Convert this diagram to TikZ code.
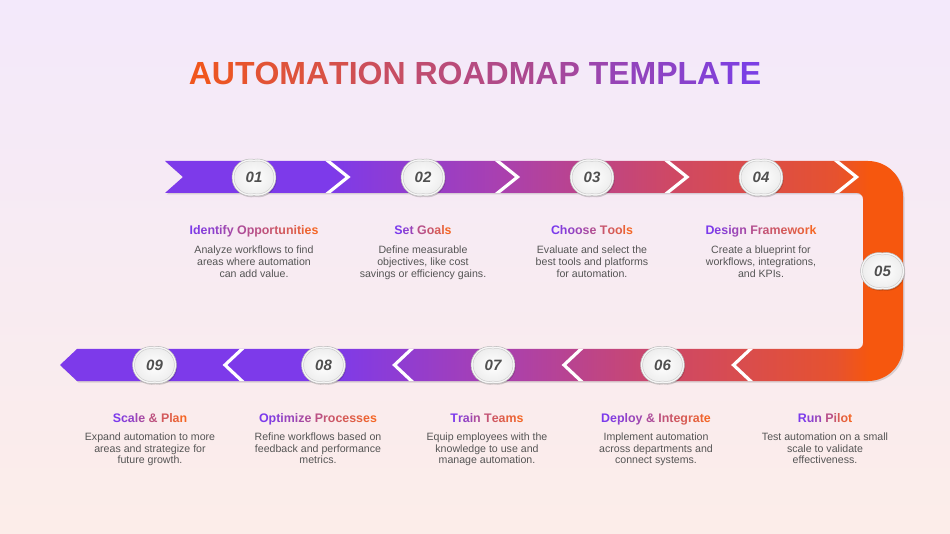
\documentclass[tikz,border=0pt]{standalone}
\usepackage{fontspec}
\setmainfont{Liberation Sans}
\definecolor{bgtop}{RGB}{243,233,251}
\definecolor{bgbot}{RGB}{252,237,233}
\definecolor{bpur}{RGB}{125,58,234}
\definecolor{bmag}{RGB}{169,64,176}
\definecolor{bred}{RGB}{206,72,102}
\definecolor{bora}{RGB}{230,82,47}
\definecolor{borb}{RGB}{246,87,14}
\definecolor{hpur}{RGB}{123,58,236}
\definecolor{hora}{RGB}{244,102,38}
\definecolor{tora}{RGB}{240,86,29}
\definecolor{tpur}{RGB}{123,63,228}
\definecolor{bodytext}{RGB}{85,85,85}
\definecolor{numtext}{RGB}{80,80,80}
\pgfdeclarehorizontalshading{bandshade}{100bp}{color(0bp)=(bpur); color(41bp)=(bpur); color(51bp)=(bmag); color(61bp)=(bred); color(71bp)=(bora); color(73bp)=(borb); color(100bp)=(borb)}
\ExplSyntaxOn
\int_new:N \l_gt_n_int
\int_new:N \l_gt_i_int
\tl_new:N \l_gt_tl
\cs_new:Npn \gt_space: { \c_space_tl }
\cs_new:Npn \gt_color:nn #1#2 { { \color{#1} #2 } }
\NewDocumentCommand \gradtext { m m m }
  {
    \tl_set:Nn \l_gt_tl {#3}
    \tl_replace_all:Nnn \l_gt_tl { ~ } { \gt_space: }
    \int_set:Nn \l_gt_n_int { \tl_count:N \l_gt_tl }
    \int_zero:N \l_gt_i_int
    \tl_map_inline:Nn \l_gt_tl
      {
        \int_incr:N \l_gt_i_int
        \tl_if_eq:nnTF {##1} { \gt_space: }
          { \c_space_tl }
          {
            \exp_args:Nx \gt_color:nn
              { #2 ! \int_eval:n { 100 * ( \l_gt_i_int - 1 ) / \int_max:nn {1} { \l_gt_n_int - 1 } } ! #1 }
              {##1}
          }
      }
  }
\ExplSyntaxOff
\def\bandpath{(165,161) -- (868,161) .. controls (887.3,161) and (903,176.7) .. (903,196) -- (903,346) .. controls (903,365.3) and (887.3,381) .. (868,381) -- (77,381) -- (60,365) -- (77,349) -- (857,349) .. controls (860.3,349) and (863,346.3) .. (863,343) -- (863,199) .. controls (863,195.7) and (860.3,193) .. (857,193) -- (165,193) -- (183,177) -- cycle}
\newcommand\badgeshape[2]{%
  \fill[black,opacity=.16] (#1+0.8,#2+1.3-18.17) arc[start angle=-100.9,end angle=100.9,radius=18.5] arc[start angle=79.1,end angle=280.9,radius=18.5] -- cycle;
  \filldraw[fill=white!94!gray,draw=gray!55,line width=.5pt] (#1,#2-18.17) arc[start angle=-100.9,end angle=100.9,radius=18.5] arc[start angle=79.1,end angle=280.9,radius=18.5] -- cycle;
  \shade[inner color=white,outer color=gray!14,draw=gray!40,line width=.5pt] (#1,#2-16.12) arc[start angle=-102.25,end angle=102.25,radius=16.5] arc[start angle=77.75,end angle=282.25,radius=16.5] -- cycle;
}
\begin{document}
\begin{tikzpicture}[x=1pt,y=-1pt,
  heading/.style={font=\fontsize{12.4}{14}\selectfont\bfseries,anchor=base,inner sep=0pt},
  bodytxt/.style={font=\fontsize{10.6}{11.65}\selectfont,text=bodytext,align=center,anchor=north,inner sep=0pt},
  num/.style={font=\fontsize{15}{15}\selectfont\bfseries\itshape,text=numtext,inner sep=0pt},
  sepline/.style={draw=white,line width=3.2pt,line join=miter}]
\useasboundingbox (0,0) rectangle (950,534);
\shade[top color=bgtop,bottom color=bgbot] (0,0) rectangle (950,534);
% title
\node[font=\fontsize{32}{34}\selectfont\bfseries,anchor=base,inner sep=0pt] (title) at (475,85) {\gradtext{tora}{tpur}{AUTOMATION ROADMAP TEMPLATE}};
% band
\fill[black,opacity=.13,shift={(1.5,1.5)}] \bandpath;
\path[shading=bandshade] \bandpath;
\begin{scope}
\clip \bandpath;
\foreach \sx in {328,497.5,667,836.5}
  \draw[sepline] (\sx-3.75,158) -- (\sx+20,177) -- (\sx-3.75,196);
\foreach \sx in {242,411.5,581,750.5}
  \draw[sepline] (\sx+3.2,346) -- (\sx-17,365) -- (\sx+3.2,384);
\end{scope}
% badges
\badgeshape{254}{177.5}\node[num] (n01) at (254,177.5) {01};
\badgeshape{423}{177.5}\node[num] (n02) at (423,177.5) {02};
\badgeshape{592}{177.5}\node[num] (n03) at (592,177.5) {03};
\badgeshape{761}{177.5}\node[num] (n04) at (761,177.5) {04};
\badgeshape{882.5}{271}\node[num] (n05) at (882.5,271) {05};
\badgeshape{662.5}{365}\node[num] (n06) at (662.5,365) {06};
\badgeshape{493}{365}\node[num] (n07) at (493,365) {07};
\badgeshape{323.5}{365}\node[num] (n08) at (323.5,365) {08};
\badgeshape{154.5}{365}\node[num] (n09) at (154.5,365) {09};
% top texts
\node[heading] (h1) at (254,235) {\gradtext{hpur}{hora}{Identify Opportunities}};
\node[bodytxt] (t1) at (254,246) {Analyze workflows to find\\areas where automation\\can add value.};
\node[heading] (h2) at (423,235) {\gradtext{hpur}{hora}{Set Goals}};
\node[bodytxt] (t2) at (423,246) {Define measurable\\objectives, like cost\\savings or efficiency gains.};
\node[heading] (h3) at (592,235) {\gradtext{hpur}{hora}{Choose Tools}};
\node[bodytxt] (t3) at (592,246) {Evaluate and select the\\best tools and platforms\\for automation.};
\node[heading] (h4) at (761,235) {\gradtext{hpur}{hora}{Design Framework}};
\node[bodytxt] (t4) at (761,246) {Create a blueprint for\\workflows, integrations,\\and KPIs.};
% bottom texts
\node[heading] (h5) at (825,422.5) {\gradtext{hpur}{hora}{Run Pilot}};
\node[bodytxt] (t5) at (825,432.5) {Test automation on a small\\scale to validate\\effectiveness.};
\node[heading] (h6) at (656,422.5) {\gradtext{hpur}{hora}{Deploy \& Integrate}};
\node[bodytxt] (t6) at (656,432.5) {Implement automation\\across departments and\\connect systems.};
\node[heading] (h7) at (487,422.5) {\gradtext{hpur}{hora}{Train Teams}};
\node[bodytxt] (t7) at (487,432.5) {Equip employees with the\\knowledge to use and\\manage automation.};
\node[heading] (h8) at (318,422.5) {\gradtext{hpur}{hora}{Optimize Processes}};
\node[bodytxt] (t8) at (318,432.5) {Refine workflows based on\\feedback and performance\\metrics.};
\node[heading] (h9) at (150,422.5) {\gradtext{hpur}{hora}{Scale \& Plan}};
\node[bodytxt] (t9) at (150,432.5) {Expand automation to more\\areas and strategize for\\future growth.};
\end{tikzpicture}
\end{document}
